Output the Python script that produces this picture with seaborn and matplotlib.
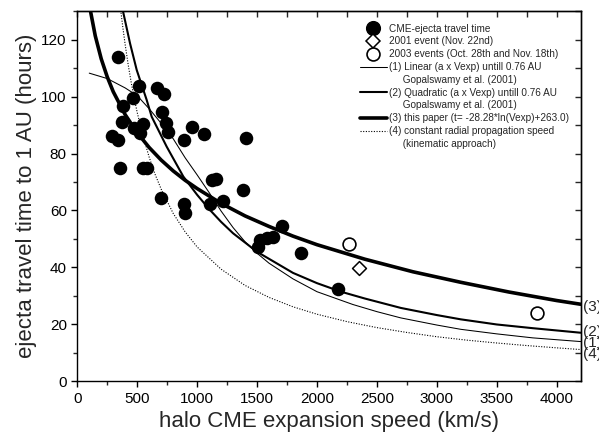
import matplotlib
matplotlib.use("Agg")
import matplotlib.pyplot as plt
import seaborn as sns
import pandas as pd
from matplotlib.lines import Line2D
from matplotlib.ticker import MultipleLocator

# ---------------- data ----------------
cme_speed = [342, 517, 462, 668, 726, 384, 704, 370, 473, 545, 523, 740, 759, 960,
             1057, 893, 287, 337, 1405, 356, 545, 584, 1127, 1157, 1385, 696, 893,
             901, 1107, 1213, 1711, 1524, 1580, 1636, 1510, 1864, 2178]
cme_time = [113.8, 103.7, 99.4, 102.9, 100.8, 96.7, 94.7, 91.2, 88.8, 90.4, 87.1, 90.6,
            87.6, 89.4, 86.7, 84.7, 86.1, 84.7, 85.3, 74.8, 75.0, 74.8, 70.7, 71.1,
            67.2, 64.4, 62.2, 59.0, 62.3, 63.4, 54.6, 49.6, 50.2, 50.8, 47.3, 45.2, 32.3]

ev2001_speed = [2353]
ev2001_time = [39.7]

ev2003_speed = [2267, 3833]
ev2003_time = [48.2, 24.1]

# (1) linear model curve
lin_speed = [100, 250, 400, 500, 600, 700, 800, 900, 1000, 1100, 1200, 1300, 1400,
             1500, 1600, 1800, 2000, 2300, 2500, 2700, 3000, 3200, 3500, 3800, 4200]
lin_time = [108.2, 106.3, 103.0, 100.3, 95.7, 90.6, 85.2, 78.5, 72.5, 66.3, 59.8, 54.0,
            49.0, 45.0, 41.5, 36.0, 31.5, 27.0, 24.5, 22.3, 19.8, 18.3, 16.7, 15.3, 14.0]

# (2) quadratic model curve
quad_speed = [379, 440, 496, 579, 621, 746, 885, 1000, 1100, 1200, 1300, 1500, 1800,
              2000, 2200, 2400, 2700, 3000, 3200, 3500, 3800, 4200]
quad_time = [130.4, 118.7, 109.3, 98.8, 92.9, 82.4, 71.9, 65.5, 60.5, 56.0, 52.0, 45.5,
             38.1, 34.5, 31.5, 29.1, 25.8, 23.3, 21.8, 20.0, 18.7, 17.1]

# (3) this paper
fit_speed = [112, 150, 200, 250, 300, 400, 500, 600, 700, 800, 900, 1000, 1200, 1400,
             1600, 1800, 2000, 2400, 2800, 3200, 3600, 4000, 4200]
fit_time = [129.6, 121.3, 113.2, 106.9, 101.7, 93.6, 87.3, 82.1, 77.7, 73.9, 70.6, 67.7,
            62.5, 58.1, 54.4, 51.0, 48.0, 42.9, 38.5, 34.8, 31.4, 28.4, 27.1]

# (4) kinematic approach
kin_speed = [365, 380, 400, 425, 450, 475, 500, 550, 600, 650, 700, 800, 900, 1000,
             1200, 1400, 1600, 1800, 2000, 2250, 2500, 2750, 3000, 3250, 3500, 3750,
             4000, 4200]
kin_time = [129.4, 124.3, 118.1, 111.1, 104.9, 99.4, 94.4, 85.9, 78.7, 72.6, 67.5, 59.0,
            52.5, 47.2, 39.4, 33.7, 29.5, 26.2, 23.6, 21.0, 18.9, 17.2, 15.7, 14.5,
            13.5, 12.6, 11.8, 11.2]

curve_labels = ["(3)", "(2)", "(1)", "(4)"]
curve_label_y = [26.3, 17.4, 13.5, 9.6]

legend_labels = [
    "CME-ejecta travel time",
    "2001 event (Nov. 22nd)",
    "2003 events (Oct. 28th and Nov. 18th)",
    "(1) Linear (a x Vexp) untill 0.76 AU",
    "     Gopalswamy et al. (2001)",
    "(2) Quadratic (a x Vexp) untill 0.76 AU",
    "     Gopalswamy et al. (2001)",
    "(3) this paper (t= -28.28*ln(Vexp)+263.0)",
    "(4) constant radial propagation speed",
    "     (kinematic approach)",
]

# ---------------- styling ----------------
sns.set_style("ticks")
plt.rcParams['font.family'] = ['Liberation Sans', 'DejaVu Sans']
plt.rcParams['axes.linewidth'] = 1.0

fig, ax = plt.subplots(figsize=(5.99, 4.41), dpi=100)
fig.subplots_adjust(left=0.129, right=0.9694, top=0.975, bottom=0.135)

# curves
sns.lineplot(x=lin_speed, y=lin_time, ax=ax, color="black", linewidth=0.75,
             errorbar=None, legend=False, sort=False)
sns.lineplot(x=quad_speed, y=quad_time, ax=ax, color="black", linewidth=1.5,
             errorbar=None, legend=False, sort=False)
sns.lineplot(x=fit_speed, y=fit_time, ax=ax, color="black", linewidth=2.6,
             errorbar=None, legend=False, sort=False)
sns.lineplot(x=kin_speed, y=kin_time, ax=ax, color="black", linewidth=0.8,
             linestyle=(0, (1, 1.4)), errorbar=None, legend=False, sort=False)

# points
sns.scatterplot(x=cme_speed, y=cme_time, ax=ax, color="black", s=95, marker="o",
                linewidth=0, zorder=3, legend=False)
sns.scatterplot(x=ev2001_speed, y=ev2001_time, ax=ax, marker="D", s=50,
                facecolor="white", edgecolor="black", linewidth=1.1, zorder=3,
                legend=False)
sns.scatterplot(x=ev2003_speed, y=ev2003_time, ax=ax, marker="o", s=85,
                facecolor="white", edgecolor="black", linewidth=1.2, zorder=3,
                legend=False)

ax.set_xlim(0, 4200)
ax.set_ylim(0, 130)

ax.xaxis.set_major_locator(MultipleLocator(500))
ax.xaxis.set_minor_locator(MultipleLocator(250))
ax.yaxis.set_major_locator(MultipleLocator(20))
ax.yaxis.set_minor_locator(MultipleLocator(10))
ax.tick_params(which="major", direction="out", length=4, width=1, labelsize=11,
               pad=3.5, colors="black")
ax.tick_params(which="minor", direction="out", length=3, width=1)

for s in ax.spines.values():
    s.set_visible(True)
    s.set_linewidth(1.0)
    s.set_color("black")

# mirrored inward ticks on top/right
secx = ax.secondary_xaxis("top")
secx.xaxis.set_major_locator(MultipleLocator(250))
secx.tick_params(direction="in", length=4, width=1, labeltop=False)
secy = ax.secondary_yaxis("right")
secy.yaxis.set_major_locator(MultipleLocator(10))
secy.tick_params(direction="in", length=4, width=1, labelright=False)

ax.set_xlabel("halo CME expansion speed (km/s)", fontsize=16, labelpad=4)
ax.set_ylabel("ejecta travel time to 1 AU (hours)", fontsize=16, labelpad=3)

# curve labels on right
trans = ax.get_yaxis_transform()
for lab, yv in zip(curve_labels, curve_label_y):
    ax.text(1.005, yv, lab, transform=trans, fontsize=11, ha="left", va="center",
            clip_on=False)

# legend
handles = [
    Line2D([], [], marker="o", color="black", linestyle="none", markersize=9.9),
    Line2D([], [], marker="D", markerfacecolor="white", markeredgecolor="black",
           linestyle="none", markersize=7.0, markeredgewidth=1.1),
    Line2D([], [], marker="o", markerfacecolor="white", markeredgecolor="black",
           linestyle="none", markersize=9.3, markeredgewidth=1.2),
    Line2D([], [], color="black", linewidth=0.75),
    Line2D([], [], linestyle="none"),
    Line2D([], [], color="black", linewidth=1.5),
    Line2D([], [], linestyle="none"),
    Line2D([], [], color="black", linewidth=2.6),
    Line2D([], [], color="black", linewidth=0.8, linestyle=(0, (1, 1.4))),
    Line2D([], [], linestyle="none"),
]
ax.legend(handles, legend_labels, loc="upper left", bbox_to_anchor=(0.5616, 0.966),
          frameon=False, fontsize=7.2, handlelength=2.7, handletextpad=0.23,
          labelspacing=0.28, borderpad=0, borderaxespad=0)

fig.savefig("out.png", dpi=100)
